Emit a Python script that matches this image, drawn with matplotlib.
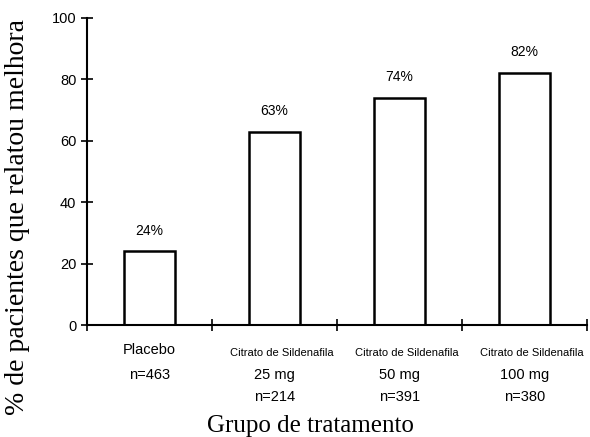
import matplotlib
matplotlib.use("Agg")
import matplotlib.pyplot as plt
import matplotlib.transforms as mtransforms

groups = ["Placebo", "25 mg", "50 mg", "100 mg"]
counts = ["n=463", "n=214", "n=391", "n=380"]
values = [24, 63, 74, 82]
drug_name = "Citrato de Sildenafila"
y_ticks = [0, 20, 40, 60, 80, 100]

fig = plt.figure(figsize=(5.9, 4.37), dpi=100)
ax = fig.add_axes([0.147, 0.256, 0.848, 0.703])

x = list(range(len(values)))
ax.bar(x, values, width=0.41, color="white", edgecolor="black", linewidth=1.8)

for xi, v in zip(x, values):
    ax.annotate(f"{v}%", (xi, v), xytext=(0, 10), textcoords="offset points",
                ha="center", va="bottom", fontsize=10, family="Liberation Sans")

ax.set_xlim(-0.5, 3.5)
ax.set_ylim(0, 100)
ax.set_yticks(y_ticks)
ax.set_xticks([-0.5, 0.5, 1.5, 2.5, 3.5])
ax.set_xticklabels([])
ax.tick_params(direction="inout", length=8, width=1.2, labelsize=10.5)
for lab in ax.get_yticklabels():
    lab.set_family("Liberation Sans")

for side in ["top", "right"]:
    ax.spines[side].set_visible(False)
for side in ["left", "bottom"]:
    ax.spines[side].set_linewidth(1.5)

# category labels below the axis, mixed sizes
trans = mtransforms.blended_transform_factory(ax.transData, fig.transFigure)
ax.text(0, 1 - 350 / 437, groups[0], transform=trans, ha="center", va="center",
        fontsize=10.5, family="Liberation Sans")
ax.text(0, 1 - 375 / 437, counts[0], transform=trans, ha="center", va="center",
        fontsize=10.5, family="Liberation Sans")
for xi in x[1:]:
    ax.text(xi + 0.06, 1 - 353 / 437, drug_name, transform=trans, ha="center",
            va="center", fontsize=8, family="Liberation Sans")
    ax.text(xi, 1 - 375 / 437, groups[xi], transform=trans, ha="center",
            va="center", fontsize=10.5, family="Liberation Sans")
    ax.text(xi, 1 - 397 / 437, counts[xi], transform=trans, ha="center",
            va="center", fontsize=10.5, family="Liberation Sans")

fig.text(310 / 590, 1 - 426 / 437, "Grupo de tratamento", ha="center", va="center",
         fontsize=18, family="Liberation Serif")
fig.text(18 / 590, 1 - 217 / 437, "% de pacientes que relatou melhora", rotation=90,
         ha="center", va="center", fontsize=20, family="Liberation Serif")

fig.savefig("out.png", dpi=100)
